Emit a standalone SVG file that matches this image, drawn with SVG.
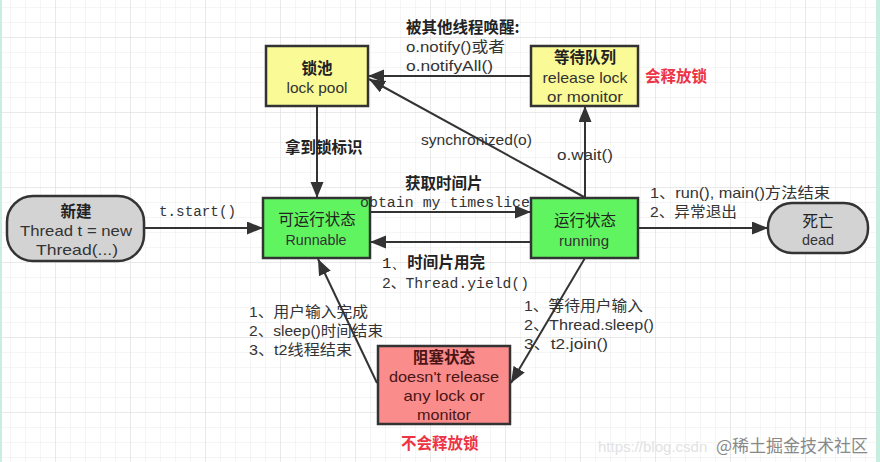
<svg xmlns="http://www.w3.org/2000/svg" width="880" height="462" viewBox="0 0 880 462">
<defs>
<pattern id="minor" patternUnits="userSpaceOnUse" x="10" y="7" width="15" height="15"><path d="M0 0H15M0 0V15" fill="none" stroke="#ececec" stroke-width="1"/></pattern>
<pattern id="major" patternUnits="userSpaceOnUse" x="55" y="37" width="75" height="75"><path d="M0 0H75M0 0V75" fill="none" stroke="#dddddd" stroke-width="1"/></pattern>
<marker id="arr" markerUnits="userSpaceOnUse" markerWidth="17" markerHeight="14" refX="16" refY="6.5" orient="auto"><path d="M0 0L16 6.5L0 13Z" fill="#333"/></marker>
</defs>
<style>
.box{stroke:#333;stroke-width:2.5}
.yel{fill:#fafa96}
.grn{fill:#60f560}
.gry{fill:#d3d3d3}
.red{fill:#fa8c8c}
.t{font-family:"Liberation Sans","Noto Sans CJK SC",sans-serif;font-size:15px;fill:#333}
.cn{font-family:"Noto Sans CJK SC",sans-serif;font-size:15.5px;font-weight:bold;fill:#222}
.cnn{font-family:"Noto Sans CJK SC",sans-serif;font-size:15.5px;fill:#222}
.m{font-family:"Liberation Mono","Noto Sans CJK SC",monospace;font-size:14px;fill:#333}
.c{text-anchor:middle}
.hot{font-family:"Noto Sans CJK SC",sans-serif;font-size:15.5px;font-weight:bold;fill:#ee3344}
.dk{fill:#4a1515}
.ln{fill:none;stroke:#333;stroke-width:2;marker-end:url(#arr)}
</style>
<rect width="880" height="462" fill="#ffffff"/>
<rect width="880" height="462" fill="url(#minor)"/>
<rect width="880" height="462" fill="url(#major)"/>
<rect x="0" y="0" width="2" height="462" fill="#c8eedf"/>
<rect x="876" y="0" width="4" height="462" fill="#c8eedf"/>

<g id="connectors">
<line class="ln" x1="144" y1="228" x2="263" y2="228"/>
<line class="ln" x1="317" y1="106" x2="317" y2="198"/>
<line class="ln" x1="370" y1="212" x2="531" y2="212"/>
<line class="ln" x1="531" y1="242" x2="370" y2="242"/>
<line class="ln" x1="638" y1="228" x2="768" y2="228"/>
<line class="ln" x1="531" y1="76" x2="368" y2="76"/>
<line class="ln" x1="585" y1="198" x2="585" y2="106"/>
<line class="ln" x1="584" y1="197" x2="369" y2="79"/>
<line class="ln" x1="585" y1="258" x2="511" y2="383"/>
<line class="ln" x1="377" y1="383" x2="318" y2="259"/>
</g>

<g id="lockpool">
<rect class="box yel" x="266" y="46" width="102" height="60"/>
<text class="cn c" x="317" y="74">锁池</text>
<text class="t c" x="317" y="93" textLength="61" lengthAdjust="spacingAndGlyphs">lock pool</text>
</g>

<g id="waitqueue">
<rect class="box yel" x="531" y="46" width="107" height="60"/>
<text class="cn c" x="585" y="63">等待队列</text>
<text class="t c" x="585" y="83" textLength="85" lengthAdjust="spacingAndGlyphs">release lock</text>
<text class="t c" x="585" y="102" textLength="76" lengthAdjust="spacingAndGlyphs">or monitor</text>
</g>

<g id="new">
<rect class="box gry" x="7" y="196" width="137" height="65" rx="26"/>
<text class="cn c" x="76" y="217">新建</text>
<text class="t c" x="76" y="236" textLength="112" lengthAdjust="spacingAndGlyphs">Thread t = new</text>
<text class="t c" x="77" y="255" textLength="82" lengthAdjust="spacingAndGlyphs">Thread(...)</text>
</g>

<g id="runnable">
<rect class="box grn" x="263" y="198" width="107" height="60"/>
<text class="cnn c" x="317" y="225">可运行状态</text>
<text class="t c" x="316" y="245" textLength="61" lengthAdjust="spacingAndGlyphs">Runnable</text>
</g>

<g id="running">
<rect class="box grn" x="531" y="198" width="107" height="60"/>
<text class="cnn c" x="585" y="226">运行状态</text>
<text class="t c" x="584" y="246" textLength="50" lengthAdjust="spacingAndGlyphs">running</text>
</g>

<g id="dead">
<rect class="box gry" x="768" y="203" width="100" height="50" rx="24"/>
<text class="cnn c" x="818" y="227">死亡</text>
<text class="t c" x="818" y="245" textLength="32" lengthAdjust="spacingAndGlyphs">dead</text>
</g>

<g id="blocked">
<rect class="box red" x="378" y="346" width="132" height="78"/>
<text class="cn c dk" x="444" y="363">阻塞状态</text>
<text class="t c dk" x="444" y="382" textLength="110" lengthAdjust="spacingAndGlyphs">doesn't release</text>
<text class="t c dk" x="444" y="401" textLength="81" lengthAdjust="spacingAndGlyphs">any lock or</text>
<text class="t c dk" x="444" y="420" textLength="54" lengthAdjust="spacingAndGlyphs">monitor</text>
</g>

<g id="labels">
<text class="cn" x="406" y="33">被其他线程唤醒:</text>
<text class="t" x="406" y="52" textLength="99" lengthAdjust="spacingAndGlyphs">o.notify()或者</text>
<text class="t" x="406" y="71" textLength="87" lengthAdjust="spacingAndGlyphs">o.notifyAll()</text>
<text class="hot" x="645" y="82">会释放锁</text>
<text class="cn" x="285" y="153">拿到锁标识</text>
<text class="t" x="421" y="145" textLength="111" lengthAdjust="spacingAndGlyphs">synchronized(o)</text>
<text class="t" x="557" y="160" textLength="56" lengthAdjust="spacingAndGlyphs">o.wait()</text>
<text class="cn" x="405" y="189">获取时间片</text>
<text class="m" x="360" y="207" textLength="170" lengthAdjust="spacingAndGlyphs">obtain my timeslice</text>
<text class="m" x="159" y="216" textLength="77" lengthAdjust="spacingAndGlyphs">t.start()</text>
<text class="t" x="650" y="198" textLength="180" lengthAdjust="spacingAndGlyphs">1、run(), main()方法结束</text>
<text class="t" x="650" y="217" textLength="87" lengthAdjust="spacingAndGlyphs">2、异常退出</text>
<text class="cn" x="382" y="268" textLength="103" lengthAdjust="spacingAndGlyphs"><tspan font-family="Liberation Mono" style="font-weight:normal">1、</tspan>时间片用完</text>
<text class="m" x="382" y="288" textLength="147" lengthAdjust="spacingAndGlyphs">2、Thread.yield()</text>
<text class="t" x="249" y="317" textLength="119" lengthAdjust="spacingAndGlyphs">1、用户输入完成</text>
<text class="t" x="249" y="336" textLength="134" lengthAdjust="spacingAndGlyphs">2、sleep()时间结束</text>
<text class="t" x="249" y="355" textLength="103" lengthAdjust="spacingAndGlyphs">3、t2线程结束</text>
<text class="t" x="524" y="311" textLength="119" lengthAdjust="spacingAndGlyphs">1、等待用户输入</text>
<text class="t" x="524" y="330" textLength="130" lengthAdjust="spacingAndGlyphs">2、Thread.sleep()</text>
<text class="t" x="524" y="349" textLength="84" lengthAdjust="spacingAndGlyphs">3、t2.join()</text>
<text class="hot" x="401" y="449">不会释放锁</text>
<text x="598" y="452" font-family="Liberation Sans,sans-serif" font-size="15" fill="#e2e2e2">https://blog.csdn</text>
<text x="716" y="452" font-family="Noto Sans CJK SC,sans-serif" font-size="17" fill="#888">@稀土掘金技术社区</text>
</g>
</svg>
